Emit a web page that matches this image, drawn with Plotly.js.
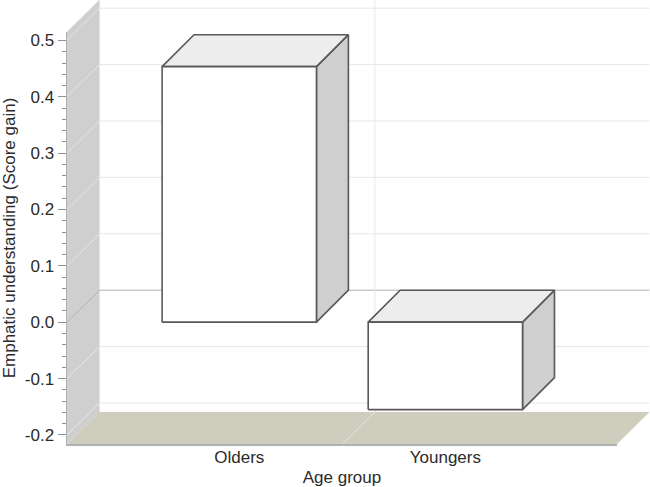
<!DOCTYPE html>
<html>
<head>
<meta charset="utf-8">
<script src="https://cdn.plot.ly/plotly-2.35.2.min.js"></script>
<style>
  html, body { margin: 0; padding: 0; background: #fff; }
</style>
</head>
<body>
<div id="plot"></div>
<script>
var categories = ['Olders', 'Youngers'];
var categoryPos = [0, 1];
var scoreGain = [0.453, -0.155];
var yTicks = [-0.2, -0.1, 0.0, 0.1, 0.2, 0.3, 0.4, 0.5];
var yTickText = ['-0.2', '-0.1', '0.0', '0.1', '0.2', '0.3', '0.4', '0.5'];
var yMinorTicks = [-0.18, -0.16, -0.14, -0.12, -0.08, -0.06, -0.04, -0.02, 0.02, 0.04, 0.06, 0.08,
    0.12, 0.14, 0.16, 0.18, 0.22, 0.24, 0.26, 0.28, 0.32, 0.34, 0.36, 0.38, 0.42, 0.44, 0.46, 0.48];

// visible axes cover the front of the box, the marks use a bigger hidden pair
// with the same scale because plotly clips lines and fills to the subplot
var xRange = [-0.836, 1.833];
var yRange = [-0.216, 0.515];
var xFull = [-0.836, 1.993];
var yFull = [-0.216, 0.5712];
var depthX = 0.158;   // oblique depth of the chart box, in axis units
var depthY = 0.0567;
var barDepthX = 0.155;
var halfWidth = 0.3745;

var traces = [];

function poly(xs, ys, fill, lineColor, lineWidth) {
    traces.push({
        x: xs, y: ys,
        xaxis: 'x', yaxis: 'y',
        type: 'scatter', mode: 'lines',
        fill: fill ? 'toself' : 'none',
        fillcolor: fill || undefined,
        line: { color: lineColor || 'rgba(0,0,0,0)', width: lineWidth || 1 },
        hoverinfo: 'skip',
        showlegend: false
    });
}

// left wall and floor
var x0 = xRange[0], x1 = xRange[1], v0 = yRange[0], v1 = yRange[1];
poly([x0, x0 + depthX, x0 + depthX, x0, x0], [v0, v0 + depthY, v1 + depthY, v1, v0], '#cfcfcf');
poly([x0, x1, x1 + depthX, x0 + depthX, x0], [v0, v0, v0 + depthY, v0 + depthY, v0], '#cfcdbd');

// grid, bent along the wall
yTicks.forEach(function (v) {
    var isZero = v === 0;
    poly([x0, x0 + depthX, x1 + depthX], [v, v + depthY, v + depthY],
        null, isZero ? '#b0b0b0' : '#e6e6e6', 1);
});
var mid = (categoryPos[0] + categoryPos[1]) / 2;
poly([mid, mid + depthX], [v0, v0 + depthY], null, '#e6e6de', 1);
poly([mid + depthX, mid + depthX], [v0 + depthY, v1 + depthY], null, '#e6e6e6', 1);

// bars
var edge = '#585858';
categories.forEach(function (c, i) {
    var l = categoryPos[i] - halfWidth, r = categoryPos[i] + halfWidth;
    var lo = Math.min(0, scoreGain[i]), hi = Math.max(0, scoreGain[i]);
    poly([r, r + barDepthX, r + barDepthX, r, r], [lo, lo + depthY, hi + depthY, hi, lo], '#cfcfcf', edge, 1.6);
    poly([l, r, r + barDepthX, l + barDepthX, l], [hi, hi, hi + depthY, hi + depthY, hi], '#ededed', edge, 1.6);
    poly([l, r, r, l, l], [lo, lo, hi, hi, lo], '#ffffff', edge, 1.6);
});

// empty trace so the visible axes get their own subplot
traces.push({ x: [], y: [], xaxis: 'x2', yaxis: 'y2', type: 'scatter', mode: 'lines', hoverinfo: 'skip', showlegend: false });

var font = { family: '"Liberation Sans", Arial, sans-serif', size: 17, color: '#2b2b2b' };

var layout = {
    width: 650,
    height: 487,
    margin: { l: 66.5, r: 0, t: 0, b: 43, pad: 0 },
    paper_bgcolor: '#ffffff',
    plot_bgcolor: 'rgba(0,0,0,0)',
    font: font,
    showlegend: false,
    xaxis: { range: xFull, visible: false, domain: [0, 1], anchor: 'y' },
    yaxis: { range: yFull, visible: false, domain: [0, 1], anchor: 'x' },
    xaxis2: {
        type: 'linear',
        domain: [0, 550.5 / 583.5],
        anchor: 'y2',
        range: xRange,
        tickmode: 'array',
        tickvals: categoryPos,
        ticktext: categories,
        ticks: '',
        ticklabelstandoff: -3,
        showgrid: false,
        zeroline: false,
        showline: true,
        linecolor: '#aeb2b2',
        linewidth: 1.5,
        tickfont: font,
        title: { text: 'Age group', font: font, standoff: 10 }
    },
    yaxis2: {
        domain: [0, 412 / 444],
        anchor: 'x2',
        range: yRange,
        tickmode: 'array',
        tickvals: yTicks,
        ticktext: yTickText,
        ticks: 'outside',
        ticklen: 8,
        tickwidth: 1,
        tickcolor: '#8f9494',
        minor: { tickmode: 'array', tickvals: yMinorTicks, ticks: 'outside', ticklen: 4, tickwidth: 1, tickcolor: '#8f9494', showgrid: false },
        showgrid: false,
        zeroline: false,
        showline: true,
        linecolor: '#aeb2b2',
        linewidth: 1.5,
        tickfont: font,
        title: { text: 'Emphatic understanding (Score gain)', font: font, standoff: 7 }
    }
};

Plotly.newPlot('plot', traces, layout, { displayModeBar: false, staticPlot: true });
</script>
</body>
</html>
